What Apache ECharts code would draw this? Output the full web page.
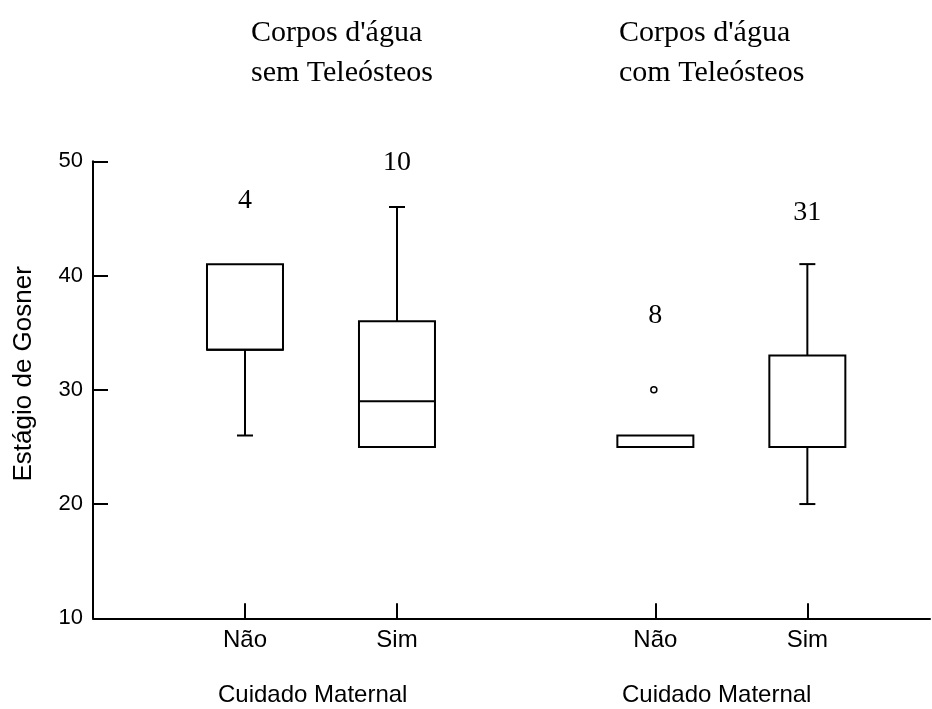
<!DOCTYPE html>
<html>
<head>
<meta charset="utf-8">
<script src="https://cdn.jsdelivr.net/npm/echarts@6/dist/echarts.min.js"></script>
<style>html,body{margin:0;padding:0;background:#fff}#c{width:932px;height:709px}</style>
</head>
<body>
<div id="c"></div>
<script>
// ---- data ----
var categories = ['Não', 'Sim', 'Não', 'Sim'];
var groupTitles = ["Corpos d'água\nsem Teleósteos", "Corpos d'água\ncom Teleósteos"];
var xAxisTitle = 'Cuidado Maternal';
var yAxisTitle = 'Estágio de Gosner';
var yTicks = [10, 20, 30, 40, 50];
// [min, Q1, median, Q3, max]
var boxStats = [
  [26, 33.5, 33.5, 41, 41],
  [25, 25, 29, 36, 46],
  [25, 25, 25, 26, 26],
  [20, 25, 25, 33, 41]
];
var sampleSizes = ['4', '10', '8', '31'];
var outliers = [[2, 30]]; // [box index, value]

// ---- layout (positions on x value axis) ----
var xPos = [1, 2, 3.7, 4.7];
var countLabelY = [46.6, 49.9, 36.5, 45.5];
var outlierX = [3.69];

var boxData = boxStats.map(function (s, i) { return [xPos[i]].concat(s); });
var countData = sampleSizes.map(function (t, i) { return { value: [xPos[i], countLabelY[i]], label: { formatter: t } }; });
var outlierData = outliers.map(function (o, i) { return [outlierX[i], o[1]]; });

var chart = echarts.init(document.getElementById('c'));
var lineStyle = { stroke: '#000', lineWidth: 2, fill: 'none' };

chart.setOption({
  animation: false,
  backgroundColor: '#fff',
  title: [
    { text: groupTitles[0], left: 246, top: 8, textStyle: { fontFamily: 'Liberation Serif', fontSize: 30, fontWeight: 'normal', color: '#000', lineHeight: 40 } },
    { text: groupTitles[1], left: 614, top: 8, textStyle: { fontFamily: 'Liberation Serif', fontSize: 30, fontWeight: 'normal', color: '#000', lineHeight: 40 } },
    { text: xAxisTitle, left: 218, top: 682, padding: 0, textStyle: { fontFamily: 'Liberation Sans', fontSize: 24, fontWeight: 'normal', color: '#000', lineHeight: 26 } },
    { text: xAxisTitle, left: 622, top: 682, padding: 0, textStyle: { fontFamily: 'Liberation Sans', fontSize: 24, fontWeight: 'normal', color: '#000', lineHeight: 26 } }
  ],
  grid: { left: 93, right: 2, top: 161.3, bottom: 90.7 },
  xAxis: {
    type: 'value', min: 0, max: 5.507,
    splitLine: { show: false },
    axisLine: { show: true, lineStyle: { color: '#000', width: 2 } },
    axisTick: { show: true, inside: true, length: 15, customValues: xPos, lineStyle: { color: '#000', width: 2 } },
    axisLabel: {
      show: true, customValues: xPos, margin: 10,
      fontFamily: 'Liberation Sans', fontSize: 24, color: '#000',
      formatter: function (v) {
        var best = 0;
        for (var i = 0; i < xPos.length; i++) if (Math.abs(xPos[i] - v) < Math.abs(xPos[best] - v)) best = i;
        return categories[best];
      }
    }
  },
  yAxis: {
    type: 'value', min: yTicks[0], max: yTicks[yTicks.length - 1], interval: 10,
    name: yAxisTitle, nameLocation: 'middle', nameGap: 56, nameRotate: 90,
    nameTextStyle: { fontFamily: 'Liberation Sans', fontSize: 26, color: '#000', padding: [0, 0, 0, 32] },
    splitLine: { show: false },
    axisLine: { show: true, lineStyle: { color: '#000', width: 2 } },
    axisTick: { show: true, inside: true, length: 15, lineStyle: { color: '#000', width: 2 } },
    axisLabel: { fontFamily: 'Liberation Sans', fontSize: 22, color: '#000', margin: 10 }
  },
  series: [
    {
      type: 'custom',
      data: boxData,
      renderItem: function (params, api) {
        var x = api.value(0);
        var c = api.coord([x, api.value(1)]);
        var cx = c[0], pMin = c[1];
        var pQ1 = api.coord([x, api.value(2)])[1];
        var pMed = api.coord([x, api.value(3)])[1];
        var pQ3 = api.coord([x, api.value(4)])[1];
        var pMax = api.coord([x, api.value(5)])[1];
        var hw = 38, cap = 8;
        var ch = [
          { type: 'rect', shape: { x: cx - hw, y: pQ3, width: hw * 2, height: pQ1 - pQ3 }, style: lineStyle },
          { type: 'line', shape: { x1: cx - hw, y1: pMed, x2: cx + hw, y2: pMed }, style: lineStyle }
        ];
        if (api.value(5) > api.value(4)) {
          ch.push({ type: 'line', shape: { x1: cx, y1: pQ3, x2: cx, y2: pMax }, style: lineStyle });
          ch.push({ type: 'line', shape: { x1: cx - cap, y1: pMax, x2: cx + cap, y2: pMax }, style: lineStyle });
        }
        if (api.value(1) < api.value(2)) {
          ch.push({ type: 'line', shape: { x1: cx, y1: pQ1, x2: cx, y2: pMin }, style: lineStyle });
          ch.push({ type: 'line', shape: { x1: cx - cap, y1: pMin, x2: cx + cap, y2: pMin }, style: lineStyle });
        }
        return { type: 'group', children: ch };
      }
    },
    {
      type: 'scatter',
      data: outlierData,
      symbol: 'circle', symbolSize: 6,
      itemStyle: { color: '#fff', borderColor: '#000', borderWidth: 1.5, opacity: 1 }
    },
    {
      type: 'scatter',
      data: countData,
      symbolSize: 0,
      itemStyle: { opacity: 1, color: '#000' },
      label: { show: true, position: 'inside', fontFamily: 'Liberation Serif', fontSize: 28, color: '#000', textBorderWidth: 0, opacity: 1 }
    }
  ]
});
</script>
</body>
</html>
